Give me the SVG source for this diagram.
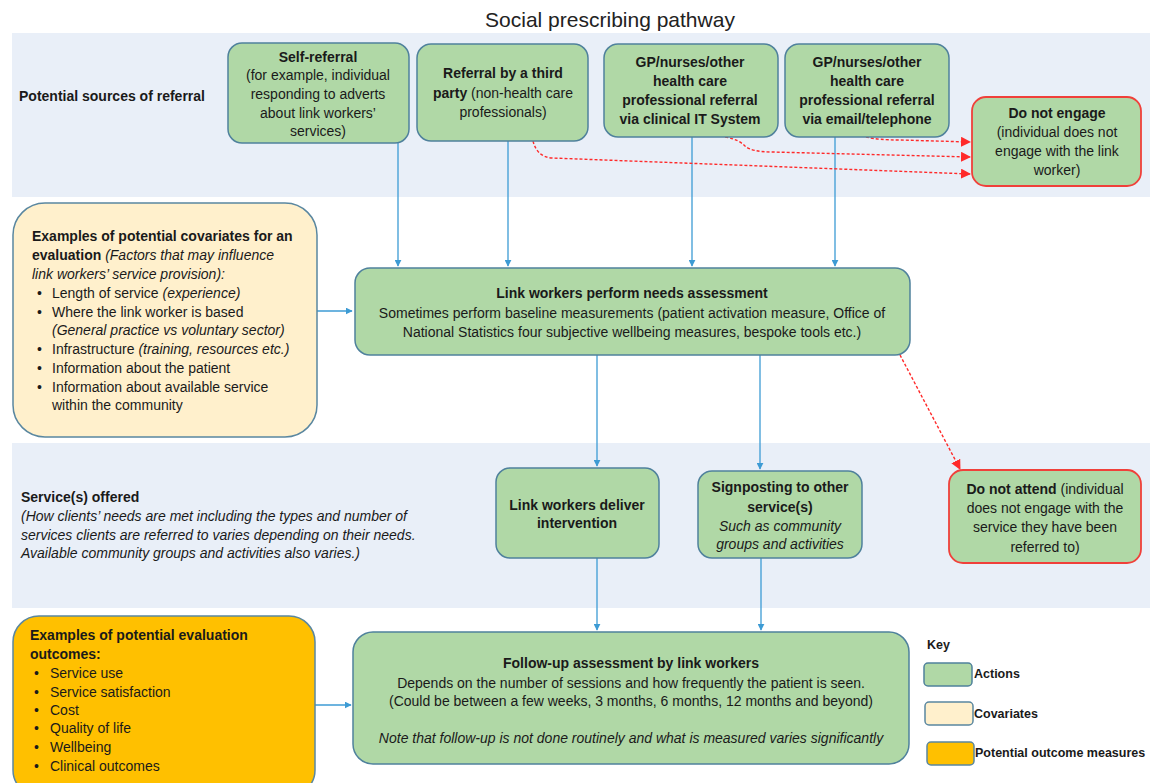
<svg xmlns="http://www.w3.org/2000/svg" width="1155" height="783" viewBox="0 0 1155 783">
<style>
text{font-family:"Liberation Sans",Arial,sans-serif;font-size:14px;fill:#1a1a1a}
.c{text-anchor:middle}
.b{font-weight:bold}
.i{font-style:italic}
.t{font-size:21px;fill:#222}
.band{fill:#e9eff8}
.act{fill:#b0d8a6;stroke:#4f819c;stroke-width:1.5}
.neg{fill:#b0d8a6;stroke:#f0403a;stroke-width:1.8}
.cov{fill:#fff0cc;stroke:#5a87a0;stroke-width:1.5}
.out{fill:#ffc000;stroke:#5a87a0;stroke-width:1.5}
.blue{fill:none;stroke:#3d9bd4;stroke-width:1.3}
.red{fill:none;stroke:#ff2a2a;stroke-width:1.4;stroke-dasharray:3 2}
.k{font-size:12.5px}
</style>
<defs>
<marker id="ab" viewBox="0 0 10 10" refX="9" refY="5" markerWidth="7" markerHeight="7" orient="auto" markerUnits="userSpaceOnUse"><path d="M0,0 L10,5 L0,10 z" fill="#3d9bd4"/></marker>
<marker id="ar" viewBox="0 0 10 10" refX="9" refY="5" markerWidth="10" markerHeight="10" orient="auto" markerUnits="userSpaceOnUse"><path d="M0,0 L10,5 L0,10 z" fill="#ff2a2a"/></marker>
</defs>
<rect width="1155" height="783" fill="#ffffff"/>
<text class="t c" x="610" y="27">Social prescribing pathway</text>
<g id="bands">
<rect class="band" x="12" y="33" width="1138" height="164"/>
<rect class="band" x="12" y="443" width="1138" height="165"/>
</g>
<g id="label-sources"><text class="b" x="19" y="101">Potential sources of referral</text></g>
<g id="label-services">
<text class="b" x="21" y="502">Service(s) offered</text>
<text class="i" x="21" y="521">(How clients’ needs are met including the types and number of</text>
<text class="i" x="21" y="540">services clients are referred to varies depending on their needs.</text>
<text class="i" x="21" y="558">Available community groups and activities also varies.)</text>
</g>
<g id="connectors">
<path class="blue" d="M398,143 V266" marker-end="url(#ab)"/>
<path class="blue" d="M508,141 V266" marker-end="url(#ab)"/>
<path class="blue" d="M692,137 V266" marker-end="url(#ab)"/>
<path class="blue" d="M835,137 V266" marker-end="url(#ab)"/>
<path class="blue" d="M317,311 H352" marker-end="url(#ab)"/>
<path class="blue" d="M597,355 V466" marker-end="url(#ab)"/>
<path class="blue" d="M760,355 V469" marker-end="url(#ab)"/>
<path class="blue" d="M597,558 V630" marker-end="url(#ab)"/>
<path class="blue" d="M761,558 V630" marker-end="url(#ab)"/>
<path class="blue" d="M315,705 H351" marker-end="url(#ab)"/>
<path class="red" d="M533,141 Q537,157 552,158 L970,174" marker-end="url(#ar)"/>
<path class="red" d="M725,137 Q738,139 745,146 Q752,152 772,152 L970,157" marker-end="url(#ar)"/>
<path class="red" d="M866,137 Q878,140 900,140 L970,142" marker-end="url(#ar)"/>
<path class="red" d="M900,355 L960,469" marker-end="url(#ar)"/>
</g>
<g id="self-referral">
<rect class="act" x="228" y="43" width="181" height="100" rx="14"/>
<text class="c b" x="318" y="62">Self-referral</text>
<text class="c" x="318" y="80">(for example, individual</text>
<text class="c" x="318" y="99">responding  to adverts</text>
<text class="c" x="318" y="118">about link workers’</text>
<text class="c" x="318" y="136">services)</text>
</g>
<g id="third-party">
<rect class="act" x="417" y="44" width="171" height="97" rx="14"/>
<text class="c b" x="503" y="78">Referral by a third</text>
<text class="c" x="503" y="98"><tspan class="b">party</tspan> (non-health care</text>
<text class="c" x="503" y="117">professionals)</text>
</g>
<g id="gp-it">
<rect class="act" x="604" y="44" width="174" height="93" rx="14"/>
<text class="c b" x="690" y="67">GP/nurses/other</text>
<text class="c b" x="690" y="86">health care</text>
<text class="c b" x="690" y="105">professional referral</text>
<text class="c b" x="690" y="124">via clinical IT System</text>
</g>
<g id="gp-email">
<rect class="act" x="785" y="44" width="164" height="93" rx="14"/>
<text class="c b" x="867" y="67">GP/nurses/other</text>
<text class="c b" x="867" y="86">health care</text>
<text class="c b" x="867" y="105">professional referral</text>
<text class="c b" x="867" y="124">via email/telephone</text>
</g>
<g id="do-not-engage">
<rect class="neg" x="972" y="97" width="169" height="89" rx="14"/>
<text class="c b" x="1057" y="118">Do not engage</text>
<text class="c" x="1057" y="137">(individual  does  not</text>
<text class="c" x="1057" y="156">engage with the link</text>
<text class="c" x="1057" y="175">worker)</text>
</g>
<g id="covariates">
<rect class="cov" x="13" y="203" width="304" height="234" rx="32"/>
<text class="b" x="32" y="241">Examples of potential covariates for an</text>
<text x="32" y="260"><tspan class="b">evaluation</tspan><tspan class="i"> (Factors that may influence</tspan></text>
<text class="i" x="32" y="279">link workers’ service provision):</text>
<text x="37" y="298">•</text><text x="52" y="298">Length of service <tspan class="i">(experience)</tspan></text>
<text x="37" y="317">•</text><text x="52" y="317">Where the link worker is based</text>
<text class="i" x="52" y="335">(General practice vs voluntary sector)</text>
<text x="37" y="354">•</text><text x="52" y="354">Infrastructure <tspan class="i">(training, resources etc.)</tspan></text>
<text x="37" y="373">•</text><text x="52" y="373">Information about the patient</text>
<text x="37" y="392">•</text><text x="52" y="392">Information about available service</text>
<text x="52" y="410">within the community</text>
</g>
<g id="needs-assessment">
<rect class="act" x="355" y="268" width="555" height="87" rx="15"/>
<text class="c b" x="632" y="298">Link workers perform needs assessment</text>
<text class="c" x="632" y="318">Sometimes perform baseline measurements (patient activation measure, Office of</text>
<text class="c" x="632" y="337">National Statistics four subjective wellbeing measures, bespoke tools etc.)</text>
</g>
<g id="deliver-intervention">
<rect class="act" x="496" y="468" width="163" height="90" rx="14"/>
<text class="c b" x="577" y="510">Link workers deliver</text>
<text class="c b" x="577" y="528">intervention</text>
</g>
<g id="signposting">
<rect class="act" x="698" y="471" width="164" height="87" rx="14"/>
<text class="c b" x="780" y="492">Signposting to other</text>
<text class="c b" x="780" y="512">service(s)</text>
<text class="c i" x="780" y="531">Such as community</text>
<text class="c i" x="780" y="549">groups and activities</text>
</g>
<g id="do-not-attend">
<rect class="neg" x="949" y="470" width="192" height="93" rx="14"/>
<text class="c" x="1045" y="494"><tspan class="b">Do not attend</tspan> (individual</text>
<text class="c" x="1045" y="513">does not engage with the</text>
<text class="c" x="1045" y="532">service they have been</text>
<text class="c" x="1045" y="552">referred to)</text>
</g>
<g id="outcomes">
<rect class="out" x="13" y="616" width="302" height="180" rx="26"/>
<text class="b" x="30" y="640">Examples of potential evaluation</text>
<text class="b" x="30" y="659">outcomes:</text>
<text x="34" y="678">•</text><text x="50" y="678">Service use</text>
<text x="34" y="697">•</text><text x="50" y="697">Service satisfaction</text>
<text x="34" y="715">•</text><text x="50" y="715">Cost</text>
<text x="34" y="733">•</text><text x="50" y="733">Quality of life</text>
<text x="34" y="752">•</text><text x="50" y="752">Wellbeing</text>
<text x="34" y="771">•</text><text x="50" y="771">Clinical outcomes</text>
</g>
<g id="follow-up">
<rect class="act" x="353" y="632" width="556" height="132" rx="20"/>
<text class="c b" x="631" y="668">Follow-up assessment by link workers</text>
<text class="c" x="631" y="688">Depends on the number of sessions  and how frequently the patient is seen.</text>
<text class="c" x="631" y="706">(Could be between a few weeks, 3 months, 6 months, 12 months and beyond)</text>
<text class="c i" x="631" y="743">Note that follow-up is not done routinely and what is measured varies significantly</text>
</g>
<g id="key">
<text class="b k" x="927" y="649">Key</text>
<rect class="act" x="924" y="663" width="48" height="23" rx="4"/>
<text class="b k" x="974" y="678">Actions</text>
<rect class="cov" x="925" y="702" width="48" height="23" rx="4"/>
<text class="b k" x="974" y="718">Covariates</text>
<rect class="out" x="927" y="742" width="47" height="23" rx="4"/>
<text class="b k" x="975" y="757">Potential outcome measures</text>
</g>
</svg>
